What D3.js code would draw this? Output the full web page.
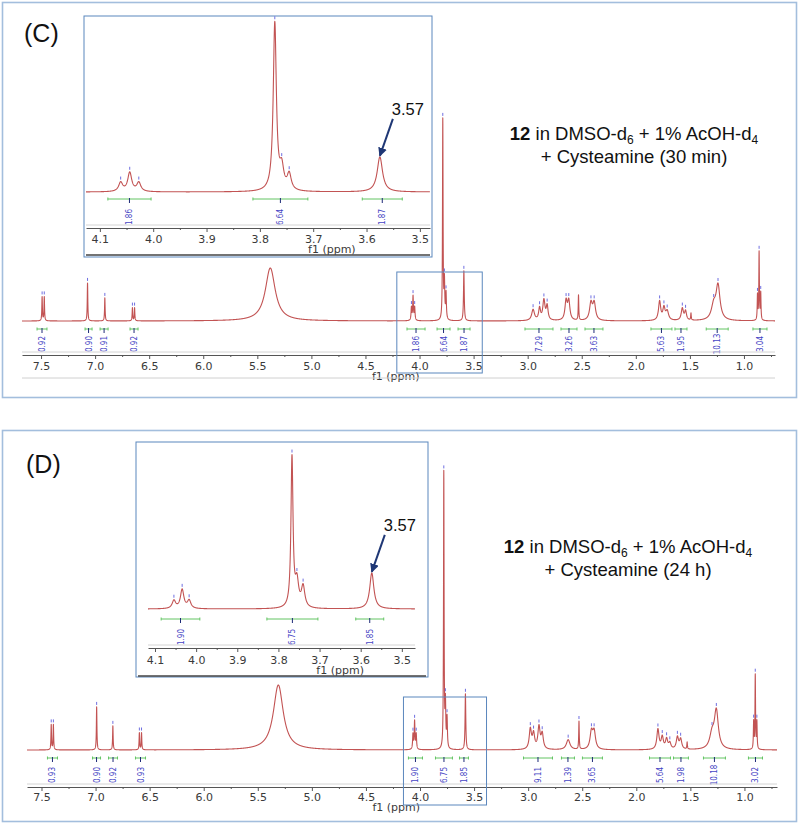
<!DOCTYPE html>
<html>
<head>
<meta charset="utf-8">
<script src="https://cdn.jsdelivr.net/npm/d3@7"></script>
<style>
  body { margin: 0; background: #fff; }
  svg { display: block; }
</style>
</head>
<body>
<svg id="fig" width="800" height="825"></svg>
<script>
// peaks: [ppm, height, half width at half max (ppm), show peak marker]
const peaksC = [
  [7.490, 24, 0.003, 1], [7.470, 24, 0.003, 1],
  [7.070, 38, 0.003, 1],
  [6.910, 23, 0.003, 1],
  [6.655, 13, 0.003, 1], [6.635, 13, 0.003, 1],
  [5.380, 53, 0.055, 0],
  [4.075, 13, 0.004, 1], [4.060, 24, 0.004, 1], [4.045, 13, 0.004, 1],
  [3.785, 200, 0.003, 1], [3.770, 38, 0.004, 1], [3.755, 26, 0.004, 1],
  [3.590, 50, 0.004, 1],
  [2.950, 11, 0.015, 1], [2.890, 12, 0.010, 1], [2.850, 20, 0.012, 1], [2.820, 14, 0.010, 1],
  [2.645, 19, 0.012, 1], [2.620, 19, 0.012, 1],
  [2.530, 25, 0.003, 0],
  [2.415, 17, 0.015, 1], [2.385, 17, 0.015, 1],
  [1.780, 19, 0.012, 1], [1.740, 12, 0.012, 1], [1.710, 9, 0.015, 1],
  [1.570, 12, 0.012, 1], [1.540, 9, 0.010, 1],
  [1.490, 7, 0.003, 0],
  [1.280, 14, 0.025, 1], [1.240, 34, 0.022, 1],
  [0.875, 25, 0.003, 1], [0.860, 68, 0.003, 1], [0.845, 27, 0.003, 1]
];
const peaksD = [
  [7.410, 25, 0.003, 1], [7.390, 25, 0.003, 1],
  [6.990, 43, 0.003, 1],
  [6.840, 24, 0.003, 1],
  [6.595, 17, 0.003, 1], [6.575, 17, 0.003, 1],
  [5.310, 65, 0.055, 0],
  [4.065, 15, 0.004, 1], [4.050, 28, 0.004, 1], [4.035, 15, 0.004, 1],
  [3.780, 276, 0.003, 1], [3.765, 44, 0.004, 1], [3.750, 30, 0.004, 1],
  [3.580, 56, 0.004, 1],
  [2.980, 20, 0.012, 1], [2.950, 15, 0.012, 1], [2.900, 22, 0.012, 1], [2.870, 15, 0.012, 1],
  [2.630, 10, 0.020, 1],
  [2.530, 28, 0.003, 1],
  [2.415, 17, 0.015, 1], [2.390, 17, 0.015, 1],
  [1.800, 20, 0.012, 1], [1.760, 12, 0.012, 1], [1.720, 10, 0.012, 1], [1.690, 6, 0.012, 1],
  [1.620, 12, 0.012, 1], [1.590, 10, 0.012, 1],
  [1.530, 7, 0.003, 0],
  [1.300, 14, 0.025, 1], [1.260, 38, 0.022, 1],
  [0.915, 27, 0.003, 1], [0.900, 74, 0.003, 1], [0.885, 27, 0.003, 1]
];
const insetPeaksC = [
  [4.061, 9, 0.0045, 1], [4.044, 19, 0.0045, 1], [4.027, 9, 0.0045, 1],
  [3.772, 168, 0.0035, 1], [3.759, 21, 0.0045, 1], [3.745, 16, 0.0045, 1],
  [3.575, 35, 0.006, 1]
];
const insetPeaksD = [
  [4.054, 8, 0.005, 1], [4.034, 19, 0.005, 1], [4.017, 8, 0.005, 1],
  [3.767, 150, 0.003, 1], [3.755, 25, 0.005, 1], [3.740, 21, 0.005, 1],
  [3.573, 36, 0.006, 1]
];

// integrals: [from ppm, to ppm, value]
const integralsC = [
  [7.537, 7.445, "0.92"], [7.093, 7.028, "0.90"], [6.954, 6.880, "0.91"], [6.677, 6.603, "0.92"],
  [4.116, 3.949, "1.86"], [3.838, 3.718, "6.64"], [3.644, 3.533, "1.87"],
  [3.025, 2.766, "7.29"], [2.692, 2.544, "3.26"], [2.470, 2.304, "3.63"],
  [1.860, 1.666, "5.63"], [1.638, 1.527, "1.95"], [1.349, 1.146, "10.13"], [0.917, 0.787, "3.04"]
];
const integralsD = [
  [7.445, 7.352, "0.93"], [7.028, 6.954, "0.90"], [6.880, 6.797, "0.92"], [6.631, 6.538, "0.93"],
  [4.107, 3.977, "1.90"], [3.857, 3.700, "6.75"], [3.635, 3.552, "1.85"],
  [3.043, 2.775, "9.11"], [2.692, 2.572, "1.39"], [2.498, 2.313, "3.65"],
  [1.878, 1.684, "5.64"], [1.656, 1.518, "1.98"], [1.379, 1.176, "10.18"], [0.963, 0.833, "3.02"]
];
const insetIntegralsC = [[4.085, 4.004, "1.86"], [3.813, 3.710, "6.64"], [3.608, 3.533, "1.87"]];
const insetIntegralsD = [[4.085, 3.991, "1.90"], [3.828, 3.704, "6.75"], [3.612, 3.544, "1.85"]];

const mainTicks = [7.5, 7.0, 6.5, 6.0, 5.5, 5.0, 4.5, 4.0, 3.5, 3.0, 2.5, 2.0, 1.5, 1.0];
const mainMinor = [7.25, 6.75, 6.25, 5.75, 5.25, 4.75, 4.25, 3.75, 3.25, 2.75, 2.25, 1.75, 1.25, 0.75];
const insetTicks = [4.1, 4.0, 3.9, 3.8, 3.7, 3.6, 3.5];
const insetMinor = [4.05, 3.95, 3.85, 3.75, 3.65, 3.55];

const panelLabels = ["(C)", "(D)"];
const shiftLabel = "3.57";
const timeLabels = ["+ Cysteamine (30 min)", "+ Cysteamine (24 h)"];

const svg = d3.select("#fig");
const lineColor = "#c25353";

function intensity(peaks, p) {
  let v = 0;
  for (const k of peaks) {
    const d = (p - k[0]) / k[2];
    v += k[1] / (1 + d * d);
  }
  return v;
}

function drawSpectrum(g, o) {
  const x = d3.scaleLinear().domain(o.domain).range(o.xr);
  const y = d3.scaleLinear().domain([0, o.ymax]).range([o.base, o.base - o.ymax]);

  // spectrum curve
  const pts = [];
  for (let p = o.domain[0]; p >= o.domain[1]; p -= o.step) pts.push([p, intensity(o.peaks, p)]);
  g.append("path")
    .datum(pts)
    .attr("fill", "none")
    .attr("stroke", lineColor)
    .attr("stroke-width", 1.1)
    .attr("stroke-linejoin", "round")
    .attr("d", d3.line().x(d => x(d[0])).y(d => y(d[1])));

  // peak picking markers
  g.selectAll(".pk").data(o.peaks.filter(d => d[3])).join("line")
    .attr("x1", d => x(d[0])).attr("x2", d => x(d[0]))
    .attr("y1", d => y(intensity(o.peaks, d[0])) - 2)
    .attr("y2", d => y(intensity(o.peaks, d[0])) - 5)
    .attr("stroke", "#6f6fe0").attr("stroke-width", 1);

  // integrals
  const ig = g.append("g");
  o.integrals.forEach(d => {
    const x0 = x(d[0]), x1 = x(d[1]), xm = (x0 + x1) / 2;
    ig.append("line").attr("x1", x0).attr("x2", x1).attr("y1", o.intY).attr("y2", o.intY)
      .attr("stroke", "#62c462").attr("stroke-width", 1);
    [x0, x1].forEach(xx => ig.append("line").attr("x1", xx).attr("x2", xx)
      .attr("y1", o.intY - 1.5).attr("y2", o.intY + 1.5).attr("stroke", "#62c462"));
    ig.append("line").attr("x1", xm).attr("x2", xm).attr("y1", o.intY - 1).attr("y2", o.intY + 4)
      .attr("stroke", "#1e2a78").attr("stroke-width", 1);
    ig.append("text")
      .attr("transform", `translate(${xm + 3},${o.labY}) rotate(-90)`)
      .attr("text-anchor", "middle")
      .attr("font-family", "DejaVu Sans Condensed, DejaVu Sans")
      .attr("font-size", 8)
      .attr("fill", "#4444c4")
      .text(d[2]);
  });

  // axis: light rule then ticks
  g.append("line").attr("x1", o.xr[0]).attr("x2", o.xr[1]).attr("y1", o.axisY - 3).attr("y2", o.axisY - 3)
    .attr("stroke", "#d4d4d4").attr("stroke-width", 1);
  const ax = g.append("g").attr("transform", `translate(0,${o.axisY})`)
    .call(d3.axisBottom(x).tickValues(o.ticks).tickFormat(d3.format(".1f")).tickSize(4).tickSizeOuter(0));
  g.append("g").attr("transform", `translate(0,${o.axisY})`)
    .call(d3.axisBottom(x).tickValues(o.minor).tickFormat("").tickSize(2).tickSizeOuter(0))
    .select(".domain").remove();
  ax.select(".domain").attr("stroke", "#555");
  g.selectAll(".tick line").attr("stroke", "#555");
  ax.selectAll(".tick text")
    .attr("font-family", "DejaVu Sans").attr("font-size", 11).attr("fill", "#3a3a3a")
    .attr("dy", null).attr("y", o.tickLabY - o.axisY);
  g.append("text").attr("x", x(o.unitAt)).attr("y", o.unitY)
    .attr("text-anchor", "middle").attr("font-family", "DejaVu Sans")
    .attr("font-size", 11).attr("fill", "#3a3a3a").text("f1 (ppm)");
  return { x, y };
}

function subText(g, cx, y, time) {
  const t = g.append("text").attr("x", cx).attr("y", y).attr("text-anchor", "middle")
    .attr("font-family", "Liberation Sans, Arial").attr("font-size", 18.5).attr("fill", "#111");
  t.append("tspan").attr("font-weight", "bold").text("12");
  t.append("tspan").text(" in DMSO-d");
  t.append("tspan").attr("font-size", 12).attr("dy", 4).text("6");
  t.append("tspan").attr("dy", -4).text(" + 1% AcOH-d");
  t.append("tspan").attr("font-size", 12).attr("dy", 4).text("4");
  g.append("text").attr("x", cx).attr("y", y + 23).attr("text-anchor", "middle")
    .attr("font-family", "Liberation Sans, Arial").attr("font-size", 18.5).attr("fill", "#111")
    .text(time);
}

svg.append("defs").append("marker")
  .attr("id", "head").attr("viewBox", "0 0 10 10").attr("refX", 9).attr("refY", 5)
  .attr("markerWidth", 4.5).attr("markerHeight", 4.5).attr("orient", "auto")
  .append("path").attr("d", "M0,0L10,5L0,10z").attr("fill", "#1f3775");

const panels = [
  {
    box: [2.5, 2.5, 794, 395], label: [24, 42], text: [634, 140], bottomRule: 378,
    main: { peaks: peaksC, integrals: integralsC, domain: [7.676, 0.713], xr: [22, 775], step: 0.0005,
      ymax: 204, base: 321, intY: 329, labY: 344, axisY: 355, tickLabY: 370, unitAt: 4.22, unitY: 380,
      ticks: mainTicks, minor: mainMinor },
    zoomBox: [4.21, 3.42, 272, 373],
    inset: { box: [84, 16, 348, 241], peaks: insetPeaksC, integrals: insetIntegralsC,
      domain: [4.126, 3.481], xr: [86, 430], step: 0.0002, ymax: 172, base: 192, intY: 199, labY: 217,
      axisY: 228, tickLabY: 243, unitAt: 3.665, unitY: 253, ticks: insetTicks, minor: insetMinor, rule: 255 }
  },
  {
    box: [2.5, 430.5, 794, 391], label: [26, 473], text: [628, 553], bottomRule: null,
    main: { peaks: peaksD, integrals: integralsD, domain: [7.634, 0.699], xr: [27, 777], step: 0.0005,
      ymax: 280, base: 750, intY: 758, labY: 775, axisY: 787, tickLabY: 801, unitAt: 4.22, unitY: 811,
      ticks: mainTicks, minor: mainMinor },
    zoomBox: [4.153, 3.385, 697, 805],
    inset: { box: [136, 442, 292, 235], peaks: insetPeaksD, integrals: insetIntegralsD,
      domain: [4.117, 3.468], xr: [148, 415], step: 0.0002, ymax: 156, base: 609, intY: 619, labY: 637,
      axisY: 648, tickLabY: 664, unitAt: 3.65, unitY: 674, ticks: insetTicks, minor: insetMinor, rule: 676 }
  }
];

panels.forEach((p, i) => {
  const g = svg.append("g");
  g.append("rect").attr("x", p.box[0]).attr("y", p.box[1]).attr("width", p.box[2]).attr("height", p.box[3])
    .attr("fill", "#fff").attr("stroke", "#a3bedd").attr("stroke-width", 1.6);

  const m = drawSpectrum(g.append("g"), p.main);
  if (p.bottomRule) {
    g.append("line").attr("x1", p.main.xr[0]).attr("x2", p.main.xr[1])
      .attr("y1", p.bottomRule).attr("y2", p.bottomRule).attr("stroke", "#d0d0d0");
  }
  // region shown in the inset
  g.append("rect")
    .attr("x", m.x(p.zoomBox[0])).attr("y", p.zoomBox[2])
    .attr("width", m.x(p.zoomBox[1]) - m.x(p.zoomBox[0])).attr("height", p.zoomBox[3] - p.zoomBox[2])
    .attr("fill", "none").attr("stroke", "#5b87bd").attr("stroke-width", 1);

  // inset
  const ib = p.inset.box;
  g.append("rect").attr("x", ib[0]).attr("y", ib[1]).attr("width", ib[2]).attr("height", ib[3])
    .attr("fill", "#fff").attr("stroke", "#5b87bd").attr("stroke-width", 1);
  const ins = drawSpectrum(g.append("g"), p.inset);
  g.append("line").attr("x1", ib[0] + 2).attr("x2", ib[0] + ib[2] - 2)
    .attr("y1", p.inset.rule).attr("y2", p.inset.rule).attr("stroke", "#444").attr("stroke-width", 1.5);

  // arrow to the 3.57 singlet
  const pk = p.inset.peaks[p.inset.peaks.length - 1];
  const tx = ins.x(pk[0]), ty = ins.y(intensity(p.inset.peaks, pk[0])) - 1;
  g.append("line").attr("x1", tx + 13).attr("y1", ty - 37).attr("x2", tx).attr("y2", ty)
    .attr("stroke", "#1f3775").attr("stroke-width", 2).attr("marker-end", "url(#head)");
  g.append("text").attr("x", tx + 28).attr("y", ty - 41).attr("text-anchor", "middle")
    .attr("font-family", "Liberation Sans, Arial").attr("font-size", 16.5).attr("fill", "#111")
    .text(shiftLabel);

  g.append("text").attr("x", p.label[0]).attr("y", p.label[1])
    .attr("font-family", "Liberation Sans, Arial").attr("font-size", 25).attr("fill", "#111")
    .text(panelLabels[i]);
  subText(g, p.text[0], p.text[1], timeLabels[i]);
});
</script>
</body>
</html>
